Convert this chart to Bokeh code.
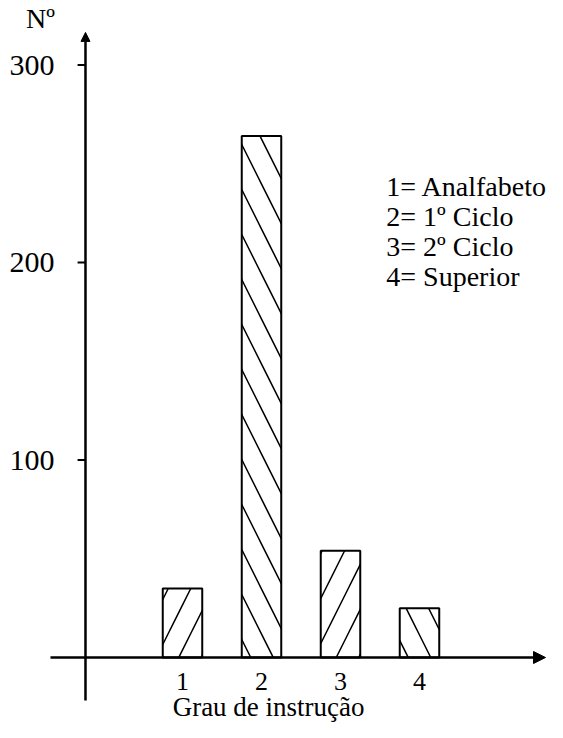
from bokeh.plotting import figure
from bokeh.models import Arrow, NormalHead, ColumnDataSource
from bokeh.core.properties import value
from bokeh.embed import file_html
from bokeh.resources import INLINE

# ---- data ----
categories = ["1", "2", "3", "4"]
counts = [35, 264, 54, 25]
hatches = ["/", "\\", "/", "\\"]
y_ticks = [100, 200, 300]
y_tick_labels = ["100", "200", "300"]
legend_lines = ["1= Analfabeto", "2= 1º Ciclo", "3= 2º Ciclo", "4= Superior"]
x_title = "Grau de instrução"
y_title = "Nº"

FONT = value("Liberation Serif")

xs = [float(c) for c in categories]

p = figure(width=547, height=722,
           x_range=(-1.3038, 5.6203), y_range=(-32.91, 332.66),
           x_axis_type=None, y_axis_type=None,
           output_backend="svg", toolbar_location=None, min_border=0)
p.grid.visible = False
p.outline_line_color = None
p.background_fill_color = "white"

src = ColumnDataSource(dict(x=xs, top=counts, hatch=hatches))
p.vbar(x="x", top="top", bottom=0, width=0.5, source=src,
       fill_color="white", line_color="black", line_width=2,
       hatch_pattern="hatch", hatch_color="black", hatch_scale=45, hatch_weight=1.5)

axis_x = -0.228
# y axis with arrow
p.add_layout(Arrow(x_start=axis_x, y_start=-21.8, x_end=axis_x, y_end=316.5,
                   line_width=2.5, line_color="black",
                   end=NormalHead(size=9, fill_color="black", line_color="black")))
# x axis with arrow
p.add_layout(Arrow(x_start=-0.671, y_start=0, x_end=5.595, y_end=0,
                   line_width=2.5, line_color="black",
                   end=NormalHead(size=12, fill_color="black", line_color="black")))

# y ticks
p.segment(x0=[axis_x - 0.1] * len(y_ticks), y0=y_ticks,
          x1=[axis_x] * len(y_ticks), y1=y_ticks,
          line_color="black", line_width=2)
p.text(x=[-0.62] * len(y_ticks), y=y_ticks, text=y_tick_labels,
       text_align="right", text_baseline="middle",
       text_font=FONT, text_font_size="30px", text_color="black")

# category labels
p.text(x=xs, y=[-12.0] * len(xs), text=categories,
       text_align="center", text_baseline="middle",
       text_font=FONT, text_font_size="26px", text_color="black")

# axis titles
p.text(x=[2.09], y=[-25.0], text=[x_title],
       text_align="center", text_baseline="middle",
       text_font=FONT, text_font_size="27px", text_color="black")
p.text(x=[-0.797], y=[323.5], text=[y_title],
       text_align="center", text_baseline="middle",
       text_font=FONT, text_font_size="28px", text_color="black")

# legend text
leg_y = [238.5, 223.3, 208.1, 192.9]
p.text(x=[3.58] * len(legend_lines), y=leg_y, text=legend_lines,
       text_align="left", text_baseline="middle",
       text_font=FONT, text_font_size="28px", text_color="black")

open("out.html", "w").write(file_html(p, INLINE))
